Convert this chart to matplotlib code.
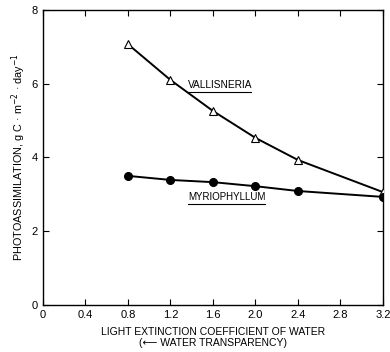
import matplotlib
matplotlib.use("Agg")
import matplotlib.pyplot as plt

# extinction coefficient (x) and photoassimilation (y)
extinction = [0.8, 1.2, 1.6, 2.0, 2.4, 3.2]
vallisneria = [7.07, 6.10, 5.26, 4.53, 3.93, 3.06]
myriophyllum = [3.50, 3.39, 3.33, 3.22, 3.09, 2.93]

xticks = [0, 0.4, 0.8, 1.2, 1.6, 2.0, 2.4, 2.8, 3.2]
xticklabels = ["0", "0.4", "0.8", "1.2", "1.6", "2.0", "2.4", "2.8", "3.2"]
yticks = [0, 2, 4, 6, 8]

plt.rcParams["font.family"] = ["Liberation Sans", "DejaVu Sans"]

fig = plt.figure(figsize=(3.9, 3.52), dpi=100)
ax = fig.add_axes([0.110, 0.1335, 0.872, 0.8385])

ax.plot(extinction, vallisneria, color="black", lw=1.4, marker="^",
        ms=6, mfc="white", mec="black", mew=0.8, zorder=3)
ax.plot(extinction, myriophyllum, color="black", lw=1.4, marker="o",
        ms=5.5, mfc="black", mec="black", zorder=4)

# curve labels, underlined like the original
ax.text(1.365, 5.84, "VALLISNERIA", fontsize=7.3, ha="left", va="bottom")
ax.plot([1.365, 1.96], [5.77, 5.77], color="black", lw=0.8)
ax.text(1.37, 2.79, "MYRIOPHYLLUM", fontsize=7.0, ha="left", va="bottom")
ax.plot([1.37, 2.09], [2.73, 2.73], color="black", lw=0.8)

ax.set_xlim(0, 3.2)
ax.set_ylim(0, 8)
ax.set_xticks(xticks)
ax.set_xticklabels(xticklabels)
ax.set_yticks(yticks)
ax.tick_params(direction="in", top=True, right=True, labelsize=8, length=4,
               width=0.8)
for s in ax.spines.values():
    s.set_linewidth(1.0)

ax.set_xlabel("LIGHT EXTINCTION COEFFICIENT OF WATER\n(\u27f5 WATER TRANSPARENCY)",
              fontsize=7.5, labelpad=5)
ax.set_ylabel("PHOTOASSIMILATION, g C \u00b7 m$^{-2}$ \u00b7 day$^{-1}$",
              fontsize=7.8, labelpad=3)

fig.savefig("out.png", dpi=100)
